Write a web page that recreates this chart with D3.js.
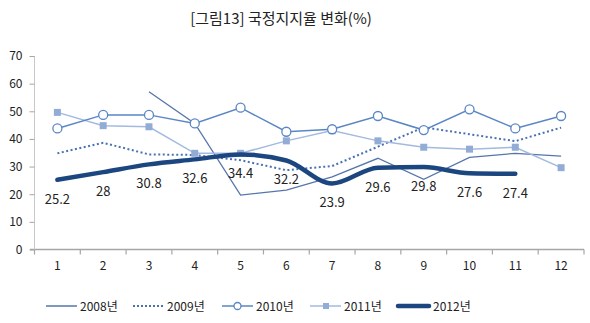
<!DOCTYPE html>
<html><head><meta charset="utf-8">
<script src="https://cdn.jsdelivr.net/npm/d3@7"></script>
<style>body{margin:0;background:#fff}svg{display:block}</style>
</head><body>
<script>
const months = ["1","2","3","4","5","6","7","8","9","10","11","12"];
const yTicks = [0,10,20,30,40,50,60,70];
const s2008 = [null,null,57.1,45.6,19.7,21.5,26.3,33.0,25.4,33.3,34.8,33.8];
const s2009 = [34.8,38.6,34.4,34.2,32.3,28.7,30.2,37.2,44.2,41.7,39.2,44.1];
const s2010 = [43.8,48.7,48.7,45.6,51.3,42.6,43.5,48.3,43.2,50.7,43.8,48.3];
const s2011 = [49.6,44.8,44.4,34.8,34.8,39.3,43.0,39.3,37.0,36.3,37.0,29.6];
const s2012 = [25.2,28,30.8,32.6,34.4,32.2,23.9,29.6,29.8,27.6,27.4];
const seriesNames = ["2008년","2009년","2010년","2011년","2012년"];
const title = "[그림13] 국정지지율 변화(%)";

const W=590,H=323;
const svg=d3.select("body").append("svg").attr("width",W).attr("height",H);
const font="'Noto Sans CJK KR','Noto Sans',sans-serif";
const x=d3.scaleBand().domain(months).range([34.5,584]);
const y=d3.scaleLinear().domain([0,70]).range([249.5,56]);
const cx=m=>x(m)+x.bandwidth()/2;

svg.append("text").attr("x",281).attr("y",24).attr("text-anchor","middle")
 .attr("font-family",font).attr("font-size",15).attr("fill","#222").text(title);

// axes
const gx=svg.append("g").attr("transform",`translate(0,${y(0)})`)
 .call(d3.axisBottom(x).tickSize(0).tickPadding(12));
gx.select(".domain").attr("stroke","#a6a6a6").attr("stroke-width",1.5).attr("d",`M30,0H584`);
gx.selectAll("text").attr("font-family",font).attr("font-size",12).attr("fill","#222");
// x tick marks at band edges
const edges=months.map(m=>x(m)).concat([x.range()[1]]);
gx.selectAll(".edge").data(edges).enter().append("line").attr("class","edge")
 .attr("x1",d=>d).attr("x2",d=>d).attr("y1",0).attr("y2",5).attr("stroke","#a6a6a6").attr("stroke-width",1.2);

const gy=svg.append("g").attr("transform",`translate(34.5,0)`)
 .call(d3.axisLeft(y).tickValues(yTicks).tickSize(5).tickPadding(7));
gy.select(".domain").attr("stroke","#c8c8c8").attr("d",`M0,${y(70)}V${y(0)}`);
gy.selectAll(".tick line").attr("stroke","#a6a6a6");
gy.selectAll("text").attr("font-family",font).attr("font-size",12).attr("fill","#222");

const line=d3.line().defined(d=>d.v!=null).x(d=>cx(d.m)).y(d=>y(d.v));
const lineC=d3.line().defined(d=>d.v!=null).x(d=>cx(d.m)).y(d=>y(d.v)).curve(d3.curveMonotoneX);
const pts=arr=>arr.map((v,i)=>({m:months[i],v}));

svg.append("path").attr("d",line(pts(s2008))).attr("fill","none").attr("stroke","#5676ab").attr("stroke-width",1.3);
svg.append("path").attr("d",line(pts(s2009))).attr("fill","none").attr("stroke","#4a72b3").attr("stroke-width",2).attr("stroke-dasharray","2,2.5");
svg.append("path").attr("d",line(pts(s2011))).attr("fill","none").attr("stroke","#a2badf").attr("stroke-width",1.5);
svg.selectAll(".sq").data(pts(s2011)).enter().append("rect").attr("x",d=>cx(d.m)-3.5).attr("y",d=>y(d.v)-3.5)
 .attr("width",7).attr("height",7).attr("fill","#93acd6");
svg.append("path").attr("d",line(pts(s2010))).attr("fill","none").attr("stroke","#5a86c4").attr("stroke-width",1.5);
svg.selectAll(".ci").data(pts(s2010)).enter().append("circle").attr("cx",d=>cx(d.m)).attr("cy",d=>y(d.v))
 .attr("r",4.5).attr("fill","#fff").attr("stroke","#5a86c4").attr("stroke-width",1.3);
svg.append("path").attr("d",lineC(pts(s2012))).attr("fill","none").attr("stroke","#1c467f").attr("stroke-width",4.5).attr("stroke-linecap","round");
svg.selectAll(".lb").data(pts(s2012)).enter().append("text").attr("x",d=>cx(d.m)).attr("y",d=>y(d.v)+24)
 .attr("text-anchor","middle").attr("font-family",font).attr("font-size",13).attr("fill","#222").text(d=>d.v);

// legend
const lg=[{x:46,t:0},{x:133,t:1},{x:222,t:2},{x:310,t:3},{x:398,t:4}];
const ly=306;
lg.forEach(o=>{
  const g=svg.append("g");
  const ln=g.append("line").attr("x1",o.x).attr("x2",o.x+31).attr("y1",ly).attr("y2",ly);
  if(o.t===0) ln.attr("stroke","#5676ab").attr("stroke-width",1.5);
  if(o.t===1) ln.attr("stroke","#4a72b3").attr("stroke-width",2).attr("stroke-dasharray","2,2");
  if(o.t===2){ln.attr("stroke","#5a86c4").attr("stroke-width",1.5);
    g.append("circle").attr("cx",o.x+15.5).attr("cy",ly).attr("r",3.5).attr("fill","#fff").attr("stroke","#5a86c4").attr("stroke-width",1.3);}
  if(o.t===3){ln.attr("stroke","#a2badf").attr("stroke-width",1.5);
    g.append("rect").attr("x",o.x+13).attr("y",ly-3).attr("width",6).attr("height",6).attr("fill","#93acd6");}
  if(o.t===4) ln.attr("stroke","#1c467f").attr("stroke-width",4.5).attr("stroke-linecap","round");
  g.append("text").attr("x",o.x+(o.t===4?35:34)).attr("y",ly+4.5).attr("font-family",font).attr("font-size",12).attr("fill","#222").text(seriesNames[o.t]);
});
</script>
</body></html>
